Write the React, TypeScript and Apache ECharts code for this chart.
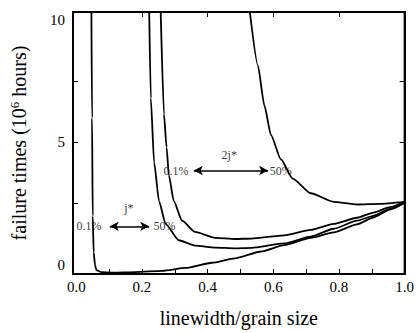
import React, { useEffect, useRef } from "react";
import * as echarts from "echarts";

// curves: [linewidth/grain size, failure time (10^6 h)]
const curveA: [number, number][] = [
  [0.046, 10.4], [0.048, 6], [0.05, 2], [0.053, 0.5], [0.057, 0], [0.061, -0.22], [0.075, -0.3],
  [0.111, -0.32], [0.18, -0.3], [0.262, -0.25], [0.333, -0.13], [0.413, 0.08], [0.483, 0.26],
  [0.563, 0.54], [0.633, 0.8], [0.714, 1.1], [0.784, 1.32], [0.855, 1.65], [0.905, 1.93],
  [0.955, 2.25], [1.0, 2.53],
];
const curveB: [number, number][] = [
  [0.222, 10.4], [0.227, 6.8], [0.237, 4.18], [0.252, 2.6], [0.272, 1.67], [0.312, 1.0],
  [0.362, 0.78], [0.423, 0.7], [0.483, 0.67], [0.533, 0.69], [0.633, 0.87], [0.714, 1.15],
  [0.784, 1.47], [0.855, 1.8], [0.905, 2.0], [0.955, 2.28], [1.0, 2.53],
];
const curveC: [number, number][] = [
  [0.257, 10.4], [0.267, 6.15], [0.275, 4.8], [0.282, 3.65], [0.297, 2.6], [0.322, 1.8],
  [0.362, 1.34], [0.423, 1.1], [0.483, 1.05], [0.533, 1.07], [0.633, 1.2], [0.714, 1.42],
  [0.784, 1.67], [0.855, 1.92], [0.905, 2.13], [0.955, 2.35], [1.0, 2.57],
];
const curveD: [number, number][] = [
  [0.528, 10.4], [0.553, 8.15], [0.573, 6.5], [0.593, 5.3], [0.623, 4.31], [0.659, 3.52],
  [0.714, 2.92], [0.784, 2.57], [0.855, 2.46], [0.925, 2.49], [1.0, 2.57],
];

const xTickLabels = [0, 0.2, 0.4, 0.6, 0.8, 1.0];
const xMinorTicks = [0.1, 0.2, 0.3, 0.4, 0.5, 0.6, 0.7, 0.8, 0.9];
const yTickLabels = [0, 5, 10];
const yTicks = [2.5, 5, 7.5];

const annTexts = ["2j*", "0.1%", "50%", "j*", "0.1%", "50%"];
const annX = [0.466, 0.304, 0.623, 0.16, 0.039, 0.269];
const annY = [4.47, 3.85, 3.85, 2.33, 1.57, 1.57];

const arrowX1 = [0.358, 0.102];
const arrowX2 = [0.584, 0.222];
const arrowY = [3.85, 1.57];

const FONT = "'Liberation Serif', 'DejaVu Serif', serif";
const INK = "#000";

export default function App() {
  const ref = useRef<HTMLDivElement>(null);
  useEffect(() => {
    if (!ref.current) return;
    const chart = echarts.init(ref.current, null, { renderer: "svg" });
    const lineSeries = [curveA, curveB, curveC, curveD].map((d) => ({
      type: "line",
      data: d,
      showSymbol: false,
      smooth: 0.2,
      smoothMonotone: "x",
      clip: true,
      lineStyle: { color: INK, width: 1.8 },
      itemStyle: { color: INK },
      silent: true,
    }));
    const mkLine = () => ({ show: true, onZero: false, lineStyle: { color: INK, width: 2 } });
    const mkTick = (vals: number[]) => ({
      show: true,
      inside: true,
      length: 5,
      customValues: vals,
      lineStyle: { color: INK, width: 1 },
    });
    chart.setOption({
      animation: false,
      grid: {
        left: 70,
        right: 12,
        top: 12,
        bottom: 52,
        show: true,
        borderColor: INK,
        borderWidth: 2,
      },
      xAxis: [
        {
          type: "value",
          position: "bottom",
          min: -0.01,
          max: 1.0,
          axisLine: mkLine(),
          splitLine: { show: false },
          axisTick: mkTick(xMinorTicks),
          axisLabel: {
            customValues: xTickLabels,
            formatter: (v: number) => v.toFixed(1),
            fontFamily: FONT,
            fontSize: 15,
            color: INK,
            margin: 5,
          },
          name: "linewidth/grain size",
          nameLocation: "middle",
          nameGap: 34,
          nameTextStyle: { fontFamily: FONT, fontSize: 20, color: INK },
        },
        {
          type: "value",
          position: "top",
          min: -0.01,
          max: 1.0,
          axisLine: mkLine(),
          splitLine: { show: false },
          axisTick: mkTick([0.2, 0.4, 0.6, 0.8]),
          axisLabel: { show: false },
        },
      ],
      yAxis: [
        {
          type: "value",
          position: "left",
          min: -0.38,
          max: 10.33,
          axisLine: mkLine(),
          splitLine: { show: false },
          axisTick: mkTick(yTicks),
          axisLabel: {
            customValues: yTickLabels,
            fontFamily: FONT,
            fontSize: 15,
            color: INK,
            margin: 8,
          },
          name: "failure times (10{sup|6} hours)",
          nameLocation: "middle",
          nameRotate: 90,
          nameGap: 43,
          nameTextStyle: {
            fontFamily: FONT,
            fontSize: 20,
            color: INK,
            rich: {
              sup: { fontFamily: FONT, fontSize: 13, color: INK, verticalAlign: "bottom", padding: [0, 0, 9, 0] },
            },
          },
        },
        {
          type: "value",
          position: "right",
          min: -0.38,
          max: 10.33,
          axisLine: mkLine(),
          splitLine: { show: false },
          axisTick: mkTick(yTicks),
          axisLabel: { show: false },
        },
      ],
      series: [
        ...lineSeries,
        {
          type: "scatter",
          symbolSize: 0,
          silent: true,
          itemStyle: { color: INK },
          data: annTexts.map((t, i) => ({
            name: t,
            value: [annX[i], annY[i]],
          })),
          label: {
            show: true,
            position: "inside",
            formatter: (p: any) => p.name,
            fontFamily: FONT,
            fontSize: 12,
            color: INK,
          },
          markLine: {
            silent: true,
            symbol: ["arrow", "arrow"],
            symbolSize: [7, 9],
            label: { show: false },
            lineStyle: { color: INK, width: 1.5, type: "solid" },
            data: arrowY.map((y, i) => [
              { coord: [arrowX1[i], y] },
              { coord: [arrowX2[i], y] },
            ]),
          },
        },
      ],
    });
    return () => chart.dispose();
  }, []);
  return (
    <div
      ref={ref}
      style={{ position: "absolute", left: 0, top: 0, width: 417, height: 333 }}
    />
  );
}
